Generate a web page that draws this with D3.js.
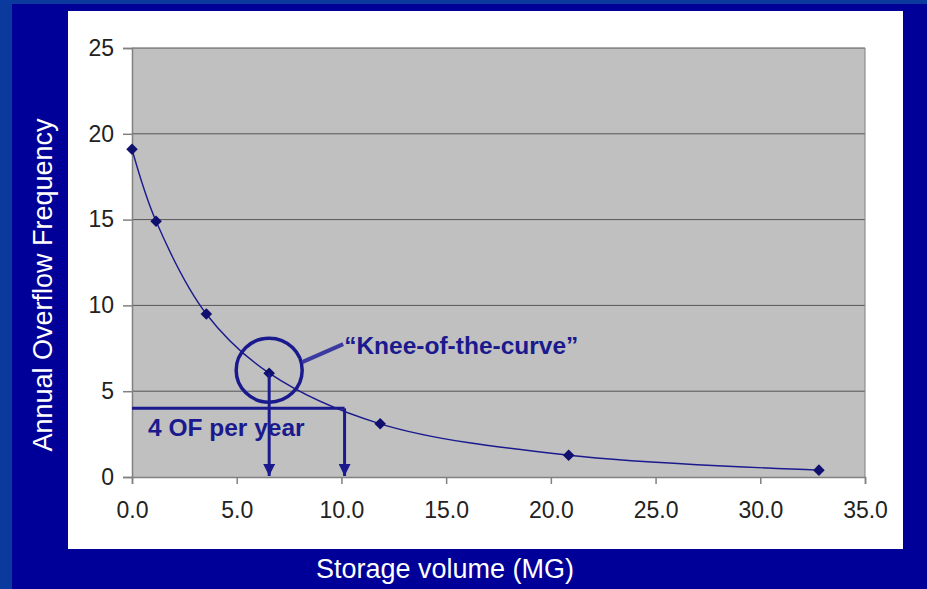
<!doctype html>
<html lang="en-us">
<head>
	<meta charset="utf-8">
	<title>Storage volume vs annual overflow frequency</title>
	<script src="https://d3js.org/d3.v7.min.js"></script>
	<style>
		html, body { margin: 0; padding: 0; background: #000098; }
		svg { display: block; font-family: "Liberation Sans", Arial, sans-serif; }
	</style>
</head>
<body>
	<div id="chart"></div>
	<script>
		// data
		var storage = [0.0, 1.15, 3.55, 6.55, 11.85, 20.85, 32.8];
		var overflow = [19.1, 14.9, 9.5, 6.05, 3.1, 1.27, 0.4];
		var xTicks = [0, 5, 10, 15, 20, 25, 30, 35];
		var yTicks = [0, 5, 10, 15, 20, 25];
		var targetOF = 4;
		var targetStorage = 10.15;
		var kneeIndex = 3;

		var W = 927, H = 589;
		var plot = { left: 132, top: 48, right: 865, bottom: 477 };
		var navy = "#1a1a8e";

		var svg = d3.select("#chart").append("svg")
			.attr("width", W)
			.attr("height", H);

		// background: lighter strips on top/left, dark navy otherwise
		svg.append("rect").attr("width", W).attr("height", H).attr("fill", "#0a3a9e");
		svg.append("rect").attr("x", 12).attr("y", 4).attr("width", W - 12).attr("height", H - 4).attr("fill", "#000098");

		// white chart panel
		svg.append("rect")
			.attr("x", 68).attr("y", 11)
			.attr("width", 835).attr("height", 538)
			.attr("fill", "#ffffff");

		var x = d3.scaleLinear().domain([0, 35]).range([plot.left, plot.right]);
		var y = d3.scaleLinear().domain([0, 25]).range([plot.bottom, plot.top]);

		// gray plot area
		svg.append("rect")
			.attr("x", plot.left).attr("y", plot.top)
			.attr("width", plot.right - plot.left).attr("height", plot.bottom - plot.top)
			.attr("fill", "#c0c0c0");

		// gridlines
		svg.append("g").selectAll("line")
			.data(yTicks.filter(function (d) { return d > 0; }))
			.enter().append("line")
			.attr("x1", plot.left).attr("x2", plot.right)
			.attr("y1", function (d) { return y(d); })
			.attr("y2", function (d) { return y(d); })
			.attr("stroke", "#555")
			.attr("stroke-width", 1);

		// right border of plot
		svg.append("line")
			.attr("x1", plot.right).attr("x2", plot.right)
			.attr("y1", plot.top).attr("y2", plot.bottom)
			.attr("stroke", "#808080");

		// axes
		var xAxis = svg.append("g")
			.attr("transform", "translate(0," + plot.bottom + ")")
			.call(d3.axisBottom(x).tickValues(xTicks).tickSize(7).tickPadding(13).tickFormat(d3.format(".1f")));
		var yAxis = svg.append("g")
			.attr("transform", "translate(" + plot.left + ",0)")
			.call(d3.axisLeft(y).tickValues(yTicks).tickSize(9).tickPadding(9));

		[xAxis, yAxis].forEach(function (a) {
			a.select(".domain").attr("stroke", "#808080").attr("stroke-width", 1.5);
			a.selectAll(".tick line").attr("stroke", "#808080").attr("stroke-width", 1.5);
			a.selectAll(".tick text")
				.attr("fill", "#222")
				.style("font-size", "23px")
				.style("font-family", "'Liberation Sans', Arial, sans-serif");
		});
		xAxis.selectAll(".tick text").attr("dy", "0.9em");

		// curve
		var pts = storage.map(function (s, i) { return [s, overflow[i]]; });
		var line = d3.line()
			.x(function (d) { return x(d[0]); })
			.y(function (d) { return y(d[1]); })
			.curve(d3.curveCatmullRom.alpha(0.5));

		svg.append("path")
			.datum(pts)
			.attr("d", line)
			.attr("fill", "none")
			.attr("stroke", navy)
			.attr("stroke-width", 1.4);

		svg.append("g").selectAll("path")
			.data(pts)
			.enter().append("path")
			.attr("d", d3.symbol().type(d3.symbolDiamond2).size(85))
			.attr("transform", function (d) { return "translate(" + x(d[0]) + "," + y(d[1]) + ")"; })
			.attr("fill", "#10106e");

		// arrowhead marker
		svg.append("defs").append("marker")
			.attr("id", "arrow")
			.attr("viewBox", "0 0 10 10")
			.attr("refX", 10).attr("refY", 5)
			.attr("markerWidth", 4).attr("markerHeight", 4)
			.attr("markerUnits", "strokeWidth")
			.attr("orient", "auto")
			.append("path")
			.attr("d", "M0,0 L10,5 L0,10 Z")
			.attr("fill", navy);

		// 4 OF per year line and drop arrows
		svg.append("line")
			.attr("x1", plot.left).attr("x2", x(targetStorage))
			.attr("y1", y(targetOF)).attr("y2", y(targetOF))
			.attr("stroke", navy).attr("stroke-width", 3);

		svg.append("line")
			.attr("x1", x(targetStorage)).attr("x2", x(targetStorage))
			.attr("y1", y(targetOF)).attr("y2", y(0) - 1)
			.attr("stroke", navy).attr("stroke-width", 3)
			.attr("marker-end", "url(#arrow)");

		svg.append("line")
			.attr("x1", x(storage[kneeIndex])).attr("x2", x(storage[kneeIndex]))
			.attr("y1", y(overflow[kneeIndex])).attr("y2", y(0) - 1)
			.attr("stroke", navy).attr("stroke-width", 3)
			.attr("marker-end", "url(#arrow)");

		svg.append("text")
			.attr("x", plot.left + 16).attr("y", 436)
			.attr("fill", navy)
			.style("font-size", "24.5px").style("font-weight", "bold")
			.text("4 OF per year");

		// knee circle and callout
		var cx = x(storage[kneeIndex]), cy = y(overflow[kneeIndex]) - 3;
		svg.append("ellipse")
			.attr("cx", cx).attr("cy", cy)
			.attr("rx", 33).attr("ry", 32)
			.attr("fill", "none")
			.attr("stroke", navy).attr("stroke-width", 3.5);

		svg.append("line")
			.attr("x1", cx + 33).attr("y1", cy - 8)
			.attr("x2", cx + 74).attr("y2", cy - 26)
			.attr("stroke", "#3a3aa0").attr("stroke-width", 4);

		svg.append("text")
			.attr("x", cx + 75).attr("y", 354)
			.attr("fill", navy)
			.style("font-size", "24.5px").style("font-weight", "bold")
			.text("\u201CKnee-of-the-curve\u201D");

		// axis titles
		svg.append("text")
			.attr("transform", "translate(52,285) rotate(-90)")
			.attr("text-anchor", "middle")
			.attr("fill", "#ffffff")
			.style("font-size", "27px")
			.text("Annual Overflow Frequency");

		svg.append("text")
			.attr("x", 445).attr("y", 578)
			.attr("text-anchor", "middle")
			.attr("fill", "#ffffff")
			.style("font-size", "27px")
			.text("Storage volume (MG)");
	</script>
</body>
</html>
